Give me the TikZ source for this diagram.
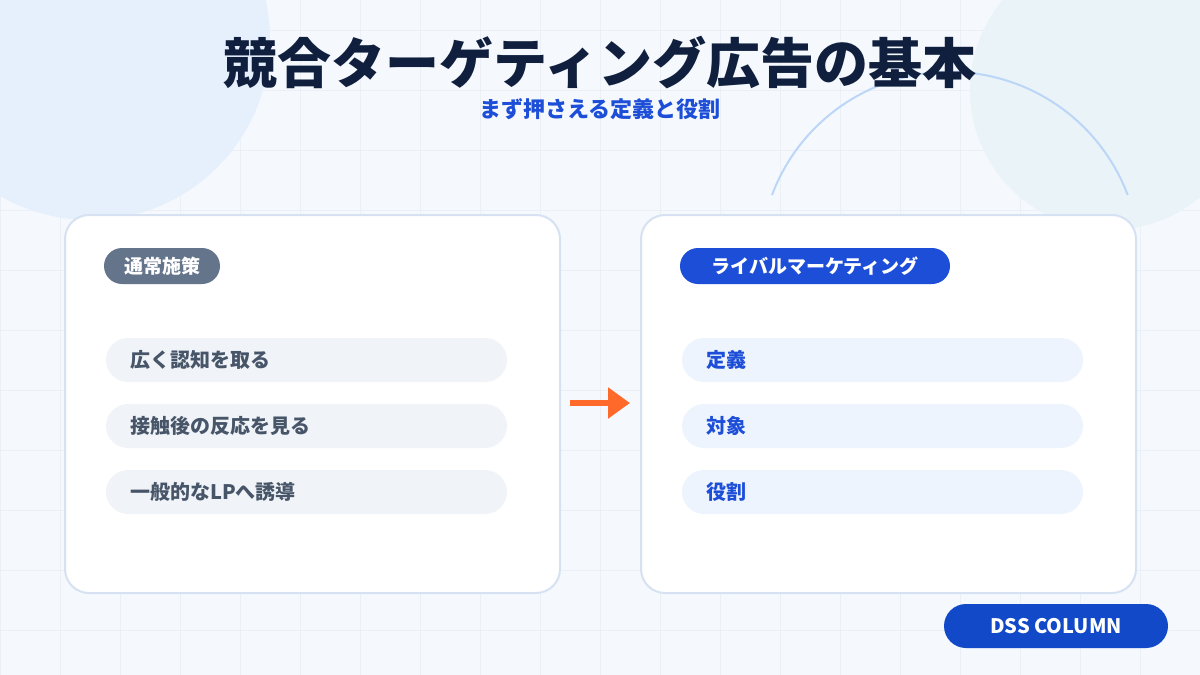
\documentclass[tikz,border=0pt]{standalone}
\usepackage{fontspec}
\setmainfont{Noto Sans CJK JP}
\usetikzlibrary{arrows.meta}
\definecolor{bg}{HTML}{F5F9FE}
\definecolor{circA}{HTML}{E6EFFC}
\definecolor{circB}{HTML}{EAF3F8}
\definecolor{arcc}{HTML}{BCD6F8}
\definecolor{titlec}{HTML}{0F1F3D}
\definecolor{blue}{HTML}{1D4ED8}
\definecolor{cardb}{HTML}{D6E2F2}
\definecolor{gpill}{HTML}{64748B}
\definecolor{grow}{HTML}{F0F3F7}
\definecolor{gtext}{HTML}{475569}
\definecolor{brow}{HTML}{EEF4FE}
\definecolor{orange}{HTML}{FF6A2B}
\definecolor{btn}{HTML}{1149C8}
\definecolor{gridc}{HTML}{EBF0F7}
\tikzset{
 card/.style={draw=cardb,line width=1pt,fill=white,rounded corners=12pt},
 pill/.style={rounded corners=9pt,text=white,font=\bfseries\fontsize{9.5}{11}\selectfont,inner sep=0pt},
 lrow/.style={fill=grow,rounded corners=11pt},
 rrow/.style={fill=brow,rounded corners=11pt},
 ltext/.style={text=gtext,font=\bfseries\fontsize{10}{12}\selectfont,anchor=west},
 rtext/.style={text=blue,font=\bfseries\fontsize{10}{12}\selectfont,anchor=west},
}
\begin{document}
\begin{tikzpicture}[x=0.5pt,y=-0.5pt]
\useasboundingbox (0,0) rectangle (1200,675);
\fill[bg] (0,0) rectangle (1200,675);
\foreach \i in {0,60,...,1200} \draw[gridc,line width=0.3pt] (\i,0) -- (\i,675);
\foreach \j in {30,90,...,675} \draw[gridc,line width=0.3pt] (0,\j) -- (1200,\j);
\fill[circA] (90,40) circle (180);
\fill[circB] (1110,90) circle (140);
\draw[arcc,line width=1pt] (772,195) arc[start angle=200.6,end angle=339.4,radius=190];
\node[text=titlec,font=\bfseries\fontsize{27}{30}\selectfont] (title) at (600,62) {競合ターゲティング広告の基本};
\node[text=blue,font=\bfseries\fontsize{11}{13}\selectfont] (sub) at (600,109) {まず押さえる定義と役割};
\draw[card] (65,215) rectangle (560,593);
\draw[card] (641,215) rectangle (1136,593);
\node[pill,fill=gpill,minimum width=58pt,minimum height=18pt] (p1) at (162,266) {通常施策};
\node[pill,fill=blue,minimum width=135pt,minimum height=18pt] (p2) at (815,266) {ライバルマーケティング};
\fill[lrow] (106,338) rectangle (507,382);
\fill[lrow] (106,404) rectangle (507,448);
\fill[lrow] (106,470) rectangle (507,514);
\node[ltext] (l1) at (123,360) {広く認知を取る};
\node[ltext] (l2) at (123,426) {接触後の反応を見る};
\node[ltext] (l3) at (123,492) {一般的なLPへ誘導};
\fill[rrow] (682,338) rectangle (1083,382);
\fill[rrow] (682,404) rectangle (1083,448);
\fill[rrow] (682,470) rectangle (1083,514);
\node[rtext] (r1) at (699,360) {定義};
\node[rtext] (r2) at (699,426) {対象};
\node[rtext] (r3) at (699,492) {役割};
\coordinate (a1) at (570,403);
\coordinate (a2) at (630,403);
\draw[orange,line width=3pt,-{Triangle[length=11pt,width=15pt]}] (a1) -- (a2);
\node[fill=btn,rounded corners=11pt,minimum width=112pt,minimum height=22pt,text=white,font=\bfseries\fontsize{10}{12}\selectfont] (btn) at (1056,626) {DSS COLUMN};
\end{tikzpicture}
\end{document}
